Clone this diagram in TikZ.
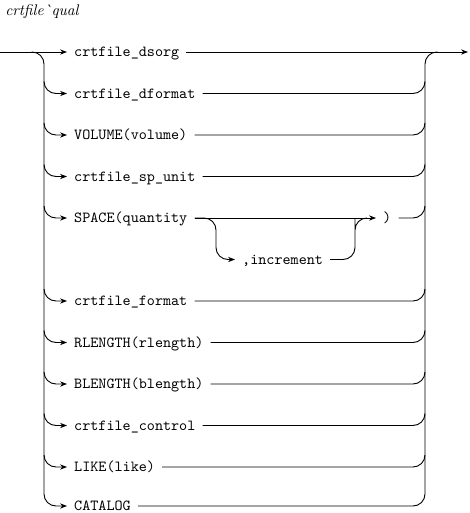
\documentclass[tikz,border=0pt]{standalone}
\usepackage{tikz}
\usetikzlibrary{arrows.meta}
\tikzstyle{lbl}=[anchor=west,inner xsep=4.5pt,inner ysep=0pt,text height=7.5pt,text depth=1.5pt,font=\ttfamily]
\tikzstyle{rail}=[line width=0.6pt,rounded corners=7.8pt]
\tikzstyle{tip}=[-{Stealth[length=4.5pt,width=3.4pt]}]

\begin{document}
\begin{tikzpicture}[x=0.65pt,y=-0.65pt]
		\useasboundingbox (0,0) rectangle (469,513);
		\node[anchor=base west,inner sep=0pt] at (5,16) (title) {\textit{crtfile\`{}qual}};
		% rails
		\coordinate (start) at (0,52);
		\coordinate (lstart) at (31.5,52);
		\coordinate (lrail) at (44,52);
		\coordinate (rrail) at (425,52);
		\coordinate (rjoin) at (437.5,52);
		\coordinate (end) at (468,52);
		% choices
		\node[lbl] at (67, 52) (dsorg) {crtfile\_dsorg};
		\node[lbl] at (67, 93.5) (dformat) {crtfile\_dformat};
		\node[lbl] at (67, 135) (volume) {VOLUME(volume)};
		\node[lbl] at (67, 176.5) (spunit) {crtfile\_sp\_unit};
		\node[lbl] at (67, 218) (space) {SPACE(quantity};
		\node[lbl] at (235, 259.5) (incr) {,increment};
		\node[lbl] at (376, 218) (close) {)};
		\node[lbl] at (67, 301) (format) {crtfile\_format};
		\node[lbl] at (67, 342.5) (rlength) {RLENGTH(rlength)};
		\node[lbl] at (67, 384) (blength) {BLENGTH(blength)};
		\node[lbl] at (67, 425.5) (control) {crtfile\_control};
		\node[lbl] at (67, 467) (like) {LIKE(like)};
		\node[lbl] at (67, 506) (catalog) {CATALOG};
		\coordinate (ifork) at (216,218);
		\coordinate (ijoin) at (355,218);
		% left branches
		\draw[rail,tip] (start) -- (dsorg.west);
		\draw[rail,tip] (lstart) -| (lrail |- catalog.west) -- (catalog.west);
		\draw[rail,tip] ([yshift=7.8pt]lrail |- dformat.west) |- (dformat.west);
		\draw[rail,tip] ([yshift=7.8pt]lrail |- volume.west) |- (volume.west);
		\draw[rail,tip] ([yshift=7.8pt]lrail |- spunit.west) |- (spunit.west);
		\draw[rail,tip] ([yshift=7.8pt]lrail |- space.west) |- (space.west);
		\draw[rail,tip] ([yshift=7.8pt]lrail |- format.west) |- (format.west);
		\draw[rail,tip] ([yshift=7.8pt]lrail |- rlength.west) |- (rlength.west);
		\draw[rail,tip] ([yshift=7.8pt]lrail |- blength.west) |- (blength.west);
		\draw[rail,tip] ([yshift=7.8pt]lrail |- control.west) |- (control.west);
		\draw[rail,tip] ([yshift=7.8pt]lrail |- like.west) |- (like.west);
		% SPACE option
		\draw[rail,tip] (space.east) -- (close.west);
		\draw[rail,tip] (space.east) -| (ifork |- incr.west) -- (incr.west);
		\draw[rail] (incr.east) -| ([yshift=-7.8pt]ijoin) |- ([xshift=7.8pt]ijoin);
		% right branches
		\draw[rail,tip] (dsorg.east) -- (end);
		\draw[rail] (catalog.east) -| (rrail) -- (rjoin);
		\draw[rail] (dformat.east) -| ([yshift=7.8pt]rrail |- dformat.east);
		\draw[rail] (volume.east) -| ([yshift=7.8pt]rrail |- volume.east);
		\draw[rail] (spunit.east) -| ([yshift=7.8pt]rrail |- spunit.east);
		\draw[rail] (close.east) -| ([yshift=7.8pt]rrail |- close.east);
		\draw[rail] (format.east) -| ([yshift=7.8pt]rrail |- format.east);
		\draw[rail] (rlength.east) -| ([yshift=7.8pt]rrail |- rlength.east);
		\draw[rail] (blength.east) -| ([yshift=7.8pt]rrail |- blength.east);
		\draw[rail] (control.east) -| ([yshift=7.8pt]rrail |- control.east);
		\draw[rail] (like.east) -| ([yshift=7.8pt]rrail |- like.east);
\end{tikzpicture}
\end{document}
